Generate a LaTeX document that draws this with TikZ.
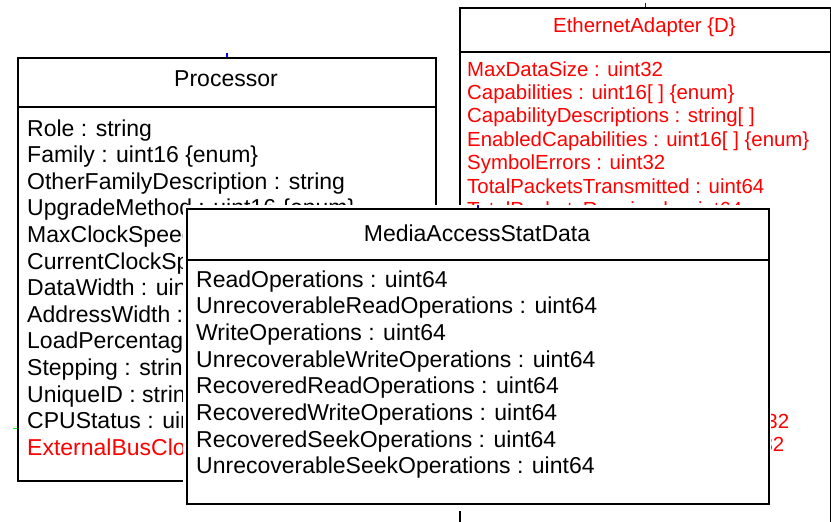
\documentclass[tikz,border=0pt]{standalone}
\usepackage{fontspec}
\setmainfont{Liberation Sans}
\tikzset{
    class-box/.style = {draw=black, line width=1.6pt, fill=white, rectangle, inner sep=0pt, anchor=north west},
    class-name/.style = {anchor=base, inner sep=0pt, font=\fontsize{23}{27}\selectfont},
    attr/.style = {anchor=base west, inner sep=0pt, font=\fontsize{23}{27}\selectfont},
    attr-eth/.style = {anchor=base west, inner sep=0pt, text=red, font=\fontsize{20.4}{23.5}\selectfont},
    port/.style = {line width=1.6pt},
}

\begin{document}
\begin{tikzpicture}[x=1pt, y=-1pt]
\useasboundingbox (0,0) rectangle (831,522);

% Processor
\node[class-box, minimum width=418pt, minimum height=49pt] (proc-head) at (17,57) {};
\node[class-box, minimum width=418pt, minimum height=374pt] (proc-body) at (17,106) {};
\node[class-name] (proc-name) at (226,86) {Processor};
\foreach \txt [count=\i from 0] in {Role : string, Family : uint16 \{enum\}, OtherFamilyDescription : string,
    UpgradeMethod : uint16 \{enum\}, MaxClockSpeed : uint32, CurrentClockSpeed : uint32, DataWidth : uint16,
    AddressWidth : uint16, LoadPercentage : uint16, Stepping : string, UniqueID : string, CPUStatus : uint16 \{enum\}}
    \node[attr] (proc-attr-\i) at (27,{136+26.6*\i}) {\txt};
\node[attr, text=red] (proc-attr-12) at (27,{136+26.6*12}) {ExternalBusClockSpeed : uint32};

% EthernetAdapter
\node[class-box, minimum width=371pt, minimum height=44pt] (eth-head) at (459,7) {};
\node[class-box, minimum width=371pt, minimum height=480pt] (eth-body) at (459,51) {};
\node[class-name, text=red, font=\fontsize{20.4}{23.5}\selectfont] (eth-name) at (644.5,32) {EthernetAdapter \{D\}};
\foreach \txt [count=\i from 0] in {MaxDataSize : uint32, {Capabilities : uint16[ ] \{enum\}},
    {CapabilityDescriptions : string[ ]}, {EnabledCapabilities : uint16[ ] \{enum\}}, SymbolErrors : uint32,
    TotalPacketsTransmitted : uint64, TotalPacketsReceived : uint64}
    \node[attr-eth] (eth-attr-\i) at (467,{76+23.47*\i}) {\txt};
\node[attr-eth] (eth-attr-15) at (467,{76+23.47*15}) {InternalMACTransmitErrors : uint32};
\node[attr-eth] (eth-attr-16) at (467,{76+23.47*16}) {InternalMACReceiveErrors : uint32};

% MediaAccessStatData
\fill[white] (183,205) rectangle (771,511);
\node[class-box, minimum width=582pt, minimum height=51pt] (media-head) at (186,208) {};
\node[class-box, minimum width=582pt, minimum height=244pt] (media-body) at (186,259) {};
\node[class-name] (media-name) at (477,241) {MediaAccessStatData};
\foreach \txt [count=\i from 0] in {ReadOperations : uint64, UnrecoverableReadOperations : uint64,
    WriteOperations : uint64, UnrecoverableWriteOperations : uint64, RecoveredReadOperations : uint64,
    RecoveredWriteOperations : uint64, RecoveredSeekOperations : uint64, UnrecoverableSeekOperations : uint64}
    \node[attr] (media-attr-\i) at (196,{287+26.7*\i}) {\txt};

% ports
\draw[port, blue] (proc-head.north) -- ++(0,-4);
\draw[port, blue] (eth-head.north) -- ++(0,-4);
\draw[port, blue] (media-head.north) -- ++(0,-3);
\draw[port, green] (proc-body.west |- proc-attr-11.base) -- ++(-4,0);
\end{tikzpicture}
\end{document}
